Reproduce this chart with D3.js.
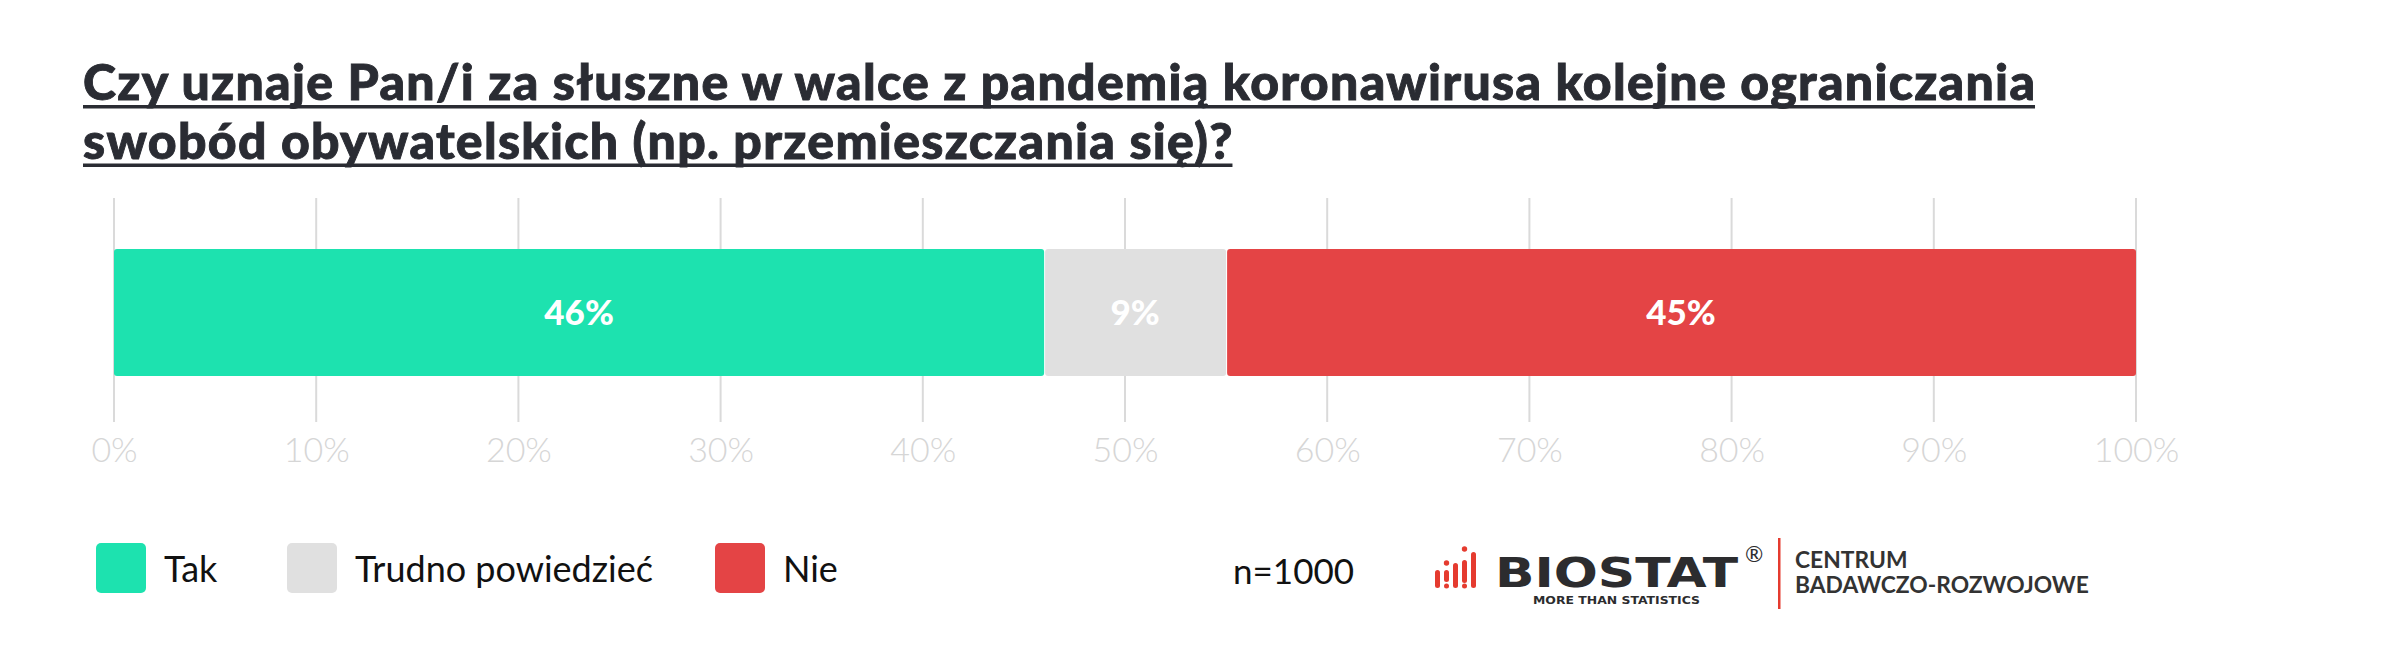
<!DOCTYPE html>
<html><head><meta charset="utf-8">
<script src="https://cdn.jsdelivr.net/npm/d3@7"></script>
<style>
html,body{margin:0;padding:0;background:#fff;}
svg{display:block;font-family:Lato,"Noto Sans",sans-serif;}
</style></head>
<body>
<svg id="chart" width="2382" height="667"></svg>
<script>
const titleLines = ["Czy uznaje Pan/i za słuszne w walce z pandemią koronawirusa kolejne ograniczania",
                    "swobód obywatelskich (np. przemieszczania się)?"];
const categories = ["Tak", "Trudno powiedzieć", "Nie"];
const values = [46, 9, 45];
const colors = ["#1de2af", "#e0e0e0", "#e44445"];
const tickValues = [0,10,20,30,40,50,60,70,80,90,100];
const sampleNote = "n=1000";

const svg = d3.select("#chart");

// Title
const tg = svg.append("g");
const tYs = [100, 158.5];
const titleX = 83, titleTargetW = 2035 - 83;
// measure first line to derive spacing
const probe = tg.append("text").attr("font-size", 50).attr("font-weight", 900).text(titleLines[0]);
const pw = probe.node().getComputedTextLength();
probe.remove();
const spacing = (titleTargetW - pw) / (titleLines[0].length - 1);
titleLines.forEach((t, i) => {
  const el = tg.append("text").attr("x", titleX).attr("y", tYs[i])
    .attr("font-size", 50).attr("font-weight", 900).attr("letter-spacing", spacing)
    .attr("fill", "#2a2c33").attr("stroke", "#2a2c33").attr("stroke-width", 0.9).text(t);
  const w = el.node().getComputedTextLength() - spacing;
  tg.append("rect").attr("x", titleX).attr("y", tYs[i] + 5).attr("width", w).attr("height", 3.5).attr("fill", "#2a2c33");
});

// Scales
const x = d3.scaleLinear().domain([0, 100]).range([114, 2136]);
const barTop = 249, barH = 127;

// grid
svg.append("g").selectAll("line").data(tickValues).join("line")
  .attr("x1", d => x(d)).attr("x2", d => x(d))
  .attr("y1", 198).attr("y2", 422)
  .attr("stroke", "#dadada").attr("stroke-width", 2);

// axis labels
const axis = d3.axisBottom(x).tickValues(tickValues).tickFormat(d => d + "%").tickSize(0).tickPadding(0);
const ag = svg.append("g").attr("transform", "translate(0,438)").call(axis);
ag.select(".domain").remove();
ag.selectAll("text").attr("font-family", "Lato").attr("font-size", 34).attr("font-weight", 300)
  .attr("fill", "#d6d6d6");

// stacked bar
let cum = 0;
const segs = values.map((v, i) => { const s = {cat: categories[i], v, x0: cum, x1: cum + v, c: colors[i]}; cum += v; return s; });
const bg = svg.append("g");
bg.selectAll("rect").data(segs).join("rect")
  .attr("x", d => x(d.x0) + (d.x0 > 0 ? 1 : 0)).attr("width", d => x(d.x1) - x(d.x0) - (d.x0 > 0 ? 1 : 0))
  .attr("y", barTop).attr("height", barH).attr("rx", 3).attr("fill", d => d.c);
bg.selectAll("text").data(segs).join("text")
  .attr("x", d => x((d.x0 + d.x1) / 2)).attr("y", barTop + barH / 2)
  .attr("dy", "0.35em").attr("text-anchor", "middle")
  .attr("font-size", 35).attr("font-weight", 900).attr("fill", "#fff").text(d => d.v + "%");

// legend
const legX = [96, 287, 715];
const lg = svg.append("g");
categories.forEach((c, i) => {
  lg.append("rect").attr("x", legX[i]).attr("y", 543).attr("width", 50).attr("height", 50).attr("rx", 5).attr("fill", colors[i]);
  lg.append("text").attr("x", legX[i] + 68).attr("y", 582).attr("font-size", 36).attr("fill", "#111").text(c);
});

// n
svg.append("text").attr("x", 1233).attr("y", 584).attr("font-size", 35).attr("fill", "#111").text(sampleNote);

// logo
const logo = svg.append("g");
const red = "#e53b2f";
// icon: [x, barTop, barBottom, dotY or null]
const ib = [[1435, 570, 588, null], [1444, 570, 582, 563], [1453, 563, 588, null], [1462, 560, 583, 549], [1471, 552, 588, null]];
ib.forEach(b => {
  logo.append("rect").attr("x", b[0]).attr("y", b[1]).attr("width", 5).attr("height", b[2] - b[1]).attr("rx", 2.5).attr("fill", red);
  if (b[3]) logo.append("circle").attr("cx", b[0] + 2.5).attr("cy", b[3]).attr("r", 2.7).attr("fill", red);
  if (b[2] < 588) logo.append("circle").attr("cx", b[0] + 2.5).attr("cy", 586).attr("r", 2.5).attr("fill", red);
});
logo.append("text").attr("x", 1495).attr("y", 587).attr("font-family", "DejaVu Sans").attr("font-weight", 700)
  .attr("font-size", 41).attr("textLength", 243).attr("lengthAdjust", "spacingAndGlyphs").attr("fill", "#2c2c2e").text("BIOSTAT");
logo.append("text").attr("x", 1533).attr("y", 604).attr("font-family", "DejaVu Sans").attr("font-weight", 700)
  .attr("font-size", 10).attr("textLength", 167).attr("lengthAdjust", "spacingAndGlyphs").attr("fill", "#2c2c2e").text("MORE THAN STATISTICS");
logo.append("text").attr("x", 1745).attr("y", 562).attr("font-size", 22).attr("fill", "#2c2c2e").text("®");
logo.append("rect").attr("x", 1778).attr("y", 538).attr("width", 2.5).attr("height", 71).attr("fill", red);
logo.append("text").attr("x", 1795).attr("y", 568).attr("font-size", 22.8).attr("font-weight", 700).attr("fill", "#333").text("CENTRUM");
logo.append("text").attr("x", 1795).attr("y", 593).attr("font-size", 22.8).attr("font-weight", 700).attr("fill", "#333").text("BADAWCZO-ROZWOJOWE");
</script>
</body></html>
